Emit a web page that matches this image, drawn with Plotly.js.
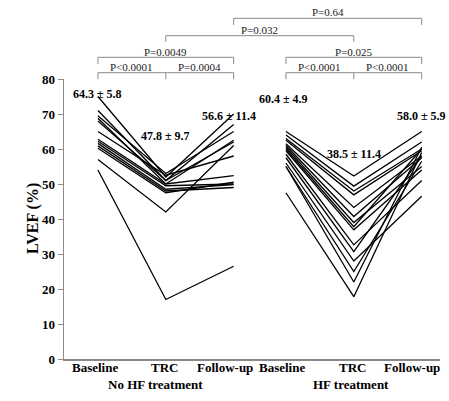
<!DOCTYPE html>
<html>
<head>
<meta charset="utf-8">
<script src="https://cdn.plot.ly/plotly-3.0.1.min.js"></script>
<style>html,body{margin:0;padding:0;background:#fff;}#chart{width:449px;height:401px;}</style>
</head>
<body>
<div id="chart"></div>
<script>
// ---- data ----
const categories = ['Baseline', 'TRC', 'Follow-up'];
const groups = ['No HF treatment', 'HF treatment'];

const noHF_baseline = [54, 57, 75, 71, 69.5, 68.8, 68, 65, 62.8, 62.2, 61.6, 60.9, 60.2];
const noHF_trc      = [17, 42, 52, 51, 53, 50, 51, 52.5, 50, 49.5, 48.5, 48, 47.5];
const noHF_followup = [26.5, 61, 70, 67, 65, 62.5, 62, 58, 52.4, 50, 49.8, 49, 50.5];

const hf_baseline = [65, 64, 63, 62.5, 61.5, 61, 60.5, 60, 59.5, 58.5, 57.5, 56, 55, 55, 47.5];
const hf_trc      = [52.3, 49.4, 48, 46.9, 43.3, 40.7, 39, 37.8, 36.9, 32.6, 30.7, 28, 25, 22, 17.8];
const hf_followup = [65, 62, 60, 59.5, 58, 57.5, 55, 60, 54, 51, 58, 46.5, 56.5, 60.5, 59];

const meanLabels = ['64.3 \u00b1 5.8', '47.8 \u00b1 9.7', '56.6 \u00b1 11.4',
                    '60.4 \u00b1 4.9', '38.5 \u00b1 11.4', '58.0 \u00b1 5.9'];
const pWithin = ['P<0.0001', 'P=0.0004', 'P<0.0001', 'P<0.0001'];
const pBaseFollow = ['P=0.0049', 'P=0.025'];
const pTrcBetween = 'P=0.032';
const pFollowBetween = 'P=0.64';

// ---- layout helpers ----
const gap = 0.77;
const xLeft = [0, 1, 2];
const xRight = [2 + gap, 3 + gap, 4 + gap];
const plotTop = 79, plotBot = 359;
const py = y => (plotBot - y) / (plotBot - plotTop);
const serif = 'Liberation Serif, Times New Roman, serif';

const traces = [];
function addGroup(xs, b, t, f) {
  for (let i = 0; i < b.length; i++) {
    traces.push({
      x: xs, y: [b[i], t[i], f[i]], type: 'scatter', mode: 'lines',
      line: {color: '#000', width: 1.3}, hoverinfo: 'skip', showlegend: false
    });
  }
}
addGroup(xLeft, noHF_baseline, noHF_trc, noHF_followup);
addGroup(xRight, hf_baseline, hf_trc, hf_followup);

const shapes = [];
const annotations = [];
const grey = '#8a8a8a';
function bracket(x0, x1, yTopPx, yBotPx, mids) {
  shapes.push({type: 'line', xref: 'x', yref: 'paper', x0: x0, x1: x1, y0: py(yTopPx), y1: py(yTopPx), line: {color: grey, width: 1}});
  [x0, x1].concat(mids || []).forEach(x => {
    shapes.push({type: 'line', xref: 'x', yref: 'paper', x0: x, x1: x, y0: py(yTopPx), y1: py(yBotPx), line: {color: grey, width: 1}});
  });
}
function ptext(text, x, yPx) {
  annotations.push({text: text, xref: 'x', yref: 'paper', x: x, y: py(yPx), showarrow: false,
    font: {family: serif, size: 11, color: '#222'}, yanchor: 'middle'});
}

// within-group brackets
bracket(xLeft[0], xLeft[2], 72.7, 79.3, [xLeft[1]]);
ptext(pWithin[0], (xLeft[0] + xLeft[1]) / 2, 67.5);
ptext(pWithin[1], (xLeft[1] + xLeft[2]) / 2, 67.5);
bracket(xRight[0], xRight[2], 72.7, 79.3, [xRight[1]]);
ptext(pWithin[2], (xRight[0] + xRight[1]) / 2, 67.5);
ptext(pWithin[3], (xRight[1] + xRight[2]) / 2, 67.5);
// baseline vs follow-up
bracket(xLeft[0], xLeft[2], 57.3, 64);
ptext(pBaseFollow[0], xLeft[1], 51.7);
bracket(xRight[0], xRight[2], 57.3, 64);
ptext(pBaseFollow[1], xRight[1], 51.7);
// between groups
bracket(xLeft[1], xRight[1], 35.7, 41.7);
ptext(pTrcBetween, (xLeft[1] + xRight[1]) / 2, 30.5);
bracket(xLeft[2], xRight[2], 18.3, 25);
ptext(pFollowBetween, (xLeft[2] + xRight[2]) / 2, 12.5);

// mean labels
const meanX = [xLeft[0], xLeft[1], xLeft[2] - 0.07, xRight[0] - 0.03, xRight[1], xRight[2]];
const meanY = [85, 127, 107, 90, 145, 107];
meanLabels.forEach((t, i) => {
  annotations.push({text: '<b>' + t + '</b>', xref: 'x', yref: 'paper', x: meanX[i], y: py(meanY[i]),
    showarrow: false, font: {family: serif, size: 12, color: '#000'}});
});

// category labels
const catShift = [-3, -1, -9, -4, -1, -10];
xLeft.concat(xRight).forEach((x, i) => {
  annotations.push({text: '<b>' + categories[i % 3] + '</b>', xref: 'x', yref: 'paper', x: x, y: py(377),
    xshift: catShift[i], showarrow: false, font: {family: serif, size: 13, color: '#000'}});
});
// group labels
annotations.push({text: '<b>' + groups[0] + '</b>', xref: 'x', yref: 'paper', x: xLeft[1], y: py(394), xshift: -10,
  showarrow: false, font: {family: serif, size: 13, color: '#000'}});
annotations.push({text: '<b>' + groups[1] + '</b>', xref: 'x', yref: 'paper', x: xRight[1], y: py(394), xshift: -3,
  showarrow: false, font: {family: serif, size: 13, color: '#000'}});
// y title
annotations.push({text: '<b>LVEF (%)</b>', xref: 'paper', yref: 'paper', x: (22 - 64) / 376, y: py(219),
  textangle: -90, showarrow: false, font: {family: serif, size: 16, color: '#000'}});

const layout = {
  width: 449, height: 401,
  margin: {l: 64, r: 9, t: 79, b: 42},
  paper_bgcolor: '#fff', plot_bgcolor: '#fff',
  showlegend: false,
  xaxis: {range: [-0.5, 5.04], showgrid: false, zeroline: false, showticklabels: false,
          showline: true, linecolor: grey, linewidth: 1.5, ticks: '', fixedrange: true},
  yaxis: {range: [0, 80], dtick: 10, showgrid: false, zeroline: false, showline: true,
          linecolor: grey, linewidth: 1.5, ticks: 'outside', ticklen: 5, tickcolor: grey,
          tickfont: {family: serif, size: 13, color: '#000', weight: 'bold'}, fixedrange: true},
  shapes: shapes,
  annotations: annotations
};

Plotly.newPlot('chart', traces, layout, {staticPlot: true, displayModeBar: false});
</script>
</body>
</html>
